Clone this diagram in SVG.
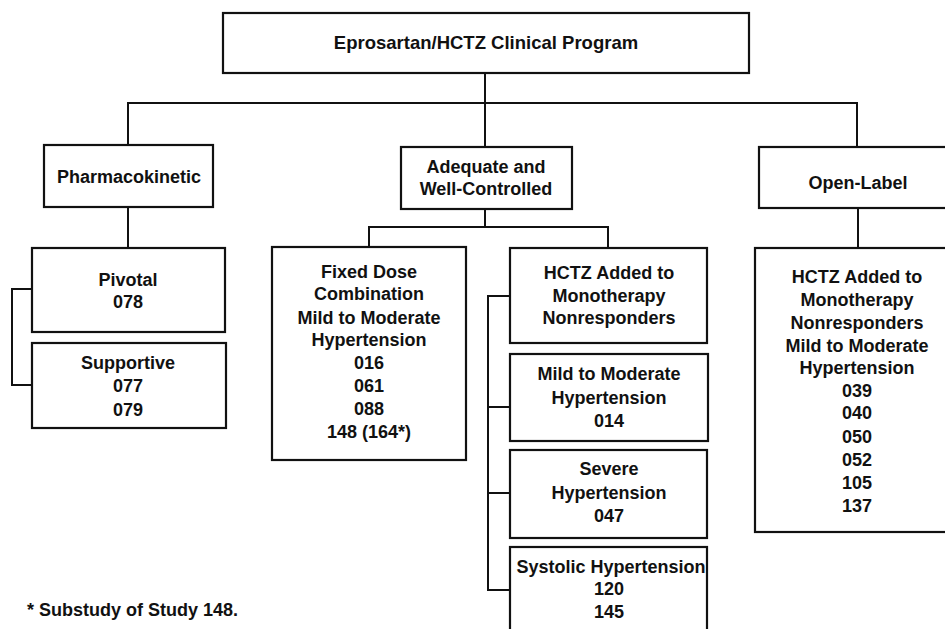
<svg xmlns="http://www.w3.org/2000/svg" width="945" height="629" viewBox="0 0 945 629">
<style>
.box{fill:#fff;stroke:#111;stroke-width:2.2}
.ln{fill:none;stroke:#111;stroke-width:2}
text{font-family:"Liberation Sans",Arial,sans-serif;font-size:18px;font-weight:bold;fill:#111;text-anchor:middle}
.fn{text-anchor:start}
</style>
<rect width="945" height="629" fill="#fff"/>
<g id="connectors">
<path class="ln" d="M485 73V147M128 145V103H857V147"/>
<path class="ln" d="M128 207V248M32 289H12V385H32"/>
<path class="ln" d="M485 209V227M369 247V227H608V248"/>
<path class="ln" d="M510 296H488V590H510M488 407H510M488 493H510"/>
<path class="ln" d="M858 208V248"/>
</g>
<g id="n-top"><rect class="box" x="223" y="13" width="526" height="60"/><text x="486" y="49" style="font-size:18.5px">Eprosartan/HCTZ Clinical Program</text></g>
<g id="n-pharma"><rect class="box" x="44" y="145" width="169" height="62"/><text x="129" y="183">Pharmacokinetic</text></g>
<g id="n-adequate"><rect class="box" x="401" y="147" width="171" height="62"/><text x="486" y="173">Adequate and</text><text x="486" y="195">Well-Controlled</text></g>
<g id="n-openlabel"><rect class="box" x="759" y="147" width="195" height="61"/><text x="858" y="189">Open-Label</text></g>
<g id="n-pivotal"><rect class="box" x="32" y="248" width="193" height="84"/><text x="128" y="286">Pivotal</text><text x="128" y="308">078</text></g>
<g id="n-supportive"><rect class="box" x="32" y="343" width="194" height="85"/><text x="128" y="369">Supportive</text><text x="128" y="392">077</text><text x="128" y="416">079</text></g>
<g id="n-fixed"><rect class="box" x="272" y="247" width="194" height="213"/>
<text x="369" y="278">Fixed Dose</text><text x="369" y="300">Combination</text><text x="369" y="324">Mild to Moderate</text><text x="369" y="346">Hypertension</text><text x="369" y="369">016</text><text x="369" y="392">061</text><text x="369" y="415">088</text><text x="369" y="438">148 (164*)</text></g>
<g id="n-hctz"><rect class="box" x="510" y="248" width="197" height="95"/><text x="609" y="279">HCTZ Added to</text><text x="609" y="302">Monotherapy</text><text x="609" y="324">Nonresponders</text></g>
<g id="n-mild"><rect class="box" x="510" y="354" width="198" height="87"/><text x="609" y="380">Mild to Moderate</text><text x="609" y="404">Hypertension</text><text x="609" y="427">014</text></g>
<g id="n-severe"><rect class="box" x="510" y="450" width="197" height="88"/><text x="609" y="475">Severe</text><text x="609" y="499">Hypertension</text><text x="609" y="522">047</text></g>
<g id="n-systolic"><rect class="box" x="510" y="547" width="197" height="100"/><text x="611" y="573">Systolic Hypertension</text><text x="609" y="595">120</text><text x="609" y="618">145</text></g>
<g id="n-openbox"><rect class="box" x="755" y="248" width="199" height="284"/>
<text x="857" y="283">HCTZ Added to</text><text x="857" y="306">Monotherapy</text><text x="857" y="329">Nonresponders</text><text x="857" y="352">Mild to Moderate</text><text x="857" y="374">Hypertension</text><text x="857" y="397">039</text><text x="857" y="419">040</text><text x="857" y="443">050</text><text x="857" y="466">052</text><text x="857" y="489">105</text><text x="857" y="512">137</text></g>
<text class="fn" x="27" y="616">* Substudy of Study 148.</text>
</svg>
